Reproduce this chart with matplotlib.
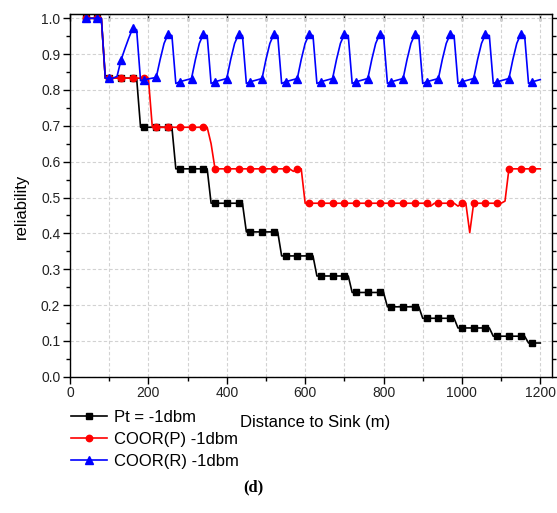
import matplotlib
matplotlib.use('Agg')
import matplotlib.pyplot as plt
from matplotlib.ticker import MultipleLocator

# distance to sink (m), one sample every 10 m
distance = [
    40, 50, 60, 70, 80, 90, 100, 110, 120, 130, 140, 150, 160, 170, 180, 190,
    200, 210, 220, 230, 240, 250, 260, 270, 280, 290, 300, 310, 320, 330, 340,
    350, 360, 370, 380, 390, 400, 410, 420, 430, 440, 450, 460, 470, 480, 490,
    500, 510, 520, 530, 540, 550, 560, 570, 580, 590, 600, 610, 620, 630, 640,
    650, 660, 670, 680, 690, 700, 710, 720, 730, 740, 750, 760, 770, 780, 790,
    800, 810, 820, 830, 840, 850, 860, 870, 880, 890, 900, 910, 920, 930, 940,
    950, 960, 970, 980, 990, 1000, 1010, 1020, 1030, 1040, 1050, 1060, 1070,
    1080, 1090, 1100, 1110, 1120, 1130, 1140, 1150, 1160, 1170, 1180, 1190, 1200,
]

# Pt = -1dbm
pt_rel = [
    1.0, 1.0, 1.0, 1.0, 1.0,
    0.833, 0.833, 0.833, 0.833, 0.833, 0.833, 0.833, 0.833, 0.833,
    0.696, 0.696, 0.696, 0.696, 0.696, 0.696, 0.696, 0.696, 0.696,
    0.580, 0.580, 0.580, 0.580, 0.580, 0.580, 0.580, 0.580, 0.580,
    0.484, 0.484, 0.484, 0.484, 0.484, 0.484, 0.484, 0.484, 0.484,
    0.404, 0.404, 0.404, 0.404, 0.404, 0.404, 0.404, 0.404, 0.404,
    0.337, 0.337, 0.337, 0.337, 0.337, 0.337, 0.337, 0.337, 0.337,
    0.281, 0.281, 0.281, 0.281, 0.281, 0.281, 0.281, 0.281, 0.281,
    0.235, 0.235, 0.235, 0.235, 0.235, 0.235, 0.235, 0.235, 0.235,
    0.195, 0.195, 0.195, 0.195, 0.195, 0.195, 0.195, 0.195, 0.195,
    0.163, 0.163, 0.163, 0.163, 0.163, 0.163, 0.163, 0.163, 0.163,
    0.136, 0.136, 0.136, 0.136, 0.136, 0.136, 0.136, 0.136, 0.136,
    0.113, 0.113, 0.113, 0.113, 0.113, 0.113, 0.113, 0.113, 0.113,
    0.094, 0.094, 0.094, 0.094,
]

# COOR(P) -1dbm
coor_p = [
    1.0, 1.0, 1.0, 1.0, 1.0,
    0.833, 0.833, 0.833, 0.833, 0.833, 0.833, 0.833, 0.833, 0.833, 0.833,
    0.833, 0.833,
    0.696, 0.696, 0.696, 0.696, 0.696, 0.696, 0.696, 0.696, 0.696, 0.696,
    0.696, 0.696, 0.696, 0.696, 0.696,
    0.650,
    0.580, 0.580, 0.580, 0.580, 0.580, 0.580, 0.580, 0.580, 0.580, 0.580,
    0.580, 0.580, 0.580, 0.580, 0.580, 0.580, 0.580, 0.580, 0.580, 0.580,
    0.573, 0.580, 0.580,
    0.484, 0.484, 0.484, 0.484, 0.484, 0.484, 0.484, 0.484, 0.484, 0.484,
    0.484, 0.484, 0.484, 0.484, 0.484, 0.484, 0.484, 0.484, 0.484, 0.484,
    0.484, 0.484, 0.484, 0.484, 0.484, 0.484, 0.484, 0.484, 0.484, 0.484,
    0.484, 0.484,
    0.476, 0.484, 0.484, 0.484, 0.484, 0.484, 0.484, 0.476, 0.484, 0.484,
    0.402,
    0.484, 0.484, 0.484, 0.484, 0.484, 0.484, 0.484, 0.484,
    0.490,
    0.580, 0.580, 0.580, 0.580, 0.580, 0.580, 0.580, 0.580, 0.580,
]

# COOR(R) -1dbm
coor_r = [
    1.0, 1.0, 1.0, 1.0, 1.0,
    0.833, 0.833, 0.833, 0.838, 0.883, 0.915, 0.945, 0.972, 0.968,
    0.826, 0.828, 0.831, 0.833, 0.835,
    0.885, 0.930, 0.955, 0.952, 0.818, 0.823, 0.826, 0.829, 0.832,
    0.885, 0.930, 0.955, 0.952, 0.818, 0.823, 0.826, 0.829, 0.832,
    0.885, 0.930, 0.955, 0.952, 0.818, 0.823, 0.826, 0.829, 0.832,
    0.885, 0.930, 0.955, 0.952, 0.818, 0.823, 0.826, 0.829, 0.832,
    0.885, 0.930, 0.955, 0.952, 0.818, 0.823, 0.826, 0.829, 0.832,
    0.885, 0.930, 0.955, 0.952, 0.818, 0.823, 0.826, 0.829, 0.832,
    0.885, 0.930, 0.955, 0.952, 0.818, 0.823, 0.826, 0.829, 0.832,
    0.885, 0.930, 0.955, 0.952, 0.818, 0.823, 0.826, 0.829, 0.832,
    0.885, 0.930, 0.955, 0.952, 0.818, 0.823, 0.826, 0.829, 0.832,
    0.885, 0.930, 0.955, 0.952, 0.818, 0.823, 0.826, 0.829, 0.832,
    0.885, 0.930, 0.955, 0.952, 0.818, 0.823, 0.826, 0.829,
]

series_labels = ['Pt = -1dbm', 'COOR(P) -1dbm', 'COOR(R) -1dbm']
x_major = [0, 200, 400, 600, 800, 1000, 1200]
y_major = [0.0, 0.1, 0.2, 0.3, 0.4, 0.5, 0.6, 0.7, 0.8, 0.9, 1.0]

plt.rcParams['font.family'] = ['Liberation Sans', 'DejaVu Sans']

fig = plt.figure(figsize=(5.57, 5.13), dpi=100)
ax = fig.add_axes([0.1257, 0.2657, 0.8654, 0.7070])

ax.plot(distance, pt_rel, color='black', lw=1.2, marker='s', ms=4.0,
        markevery=3, label=series_labels[0])
ax.plot(distance, coor_p, color='red', lw=1.2, marker='o', ms=4.6,
        markevery=3, label=series_labels[1])
ax.plot(distance, coor_r, color='blue', lw=1.2, marker='^', ms=5.2,
        markevery=3, label=series_labels[2])

ax.set_xlim(0, 1230)
ax.set_ylim(0, 1.012)
ax.set_xticks(x_major)
ax.xaxis.set_minor_locator(MultipleLocator(100))
ax.set_yticks(y_major)
ax.set_yticklabels([f'{v:.1f}' for v in y_major])
ax.yaxis.set_minor_locator(MultipleLocator(0.05))

grid_kw = dict(color='#d2d2d2', linestyle=(0, (3, 2)), linewidth=0.8)
ax.grid(which='both', axis='x', **grid_kw)
ax.grid(which='major', axis='y', **grid_kw)
ax.set_axisbelow(True)

for s in ax.spines.values():
    s.set_linewidth(1.0)

ax.tick_params(which='both', direction='out', right=True, width=1.0,
               labelsize=10, pad=2, labelcolor='#222222')
ax.tick_params(which='major', length=5)
ax.tick_params(which='minor', length=3)

# top axis: ticks every 100 pointing in
top = ax.secondary_xaxis('top')
top.set_xticks([100 * i for i in range(13)])
top.tick_params(direction='in', length=5, width=1.0, labeltop=False)

ax.set_xlabel('Distance to Sink (m)', fontsize=12)
ax.xaxis.set_label_coords(0.508, -0.106)
ax.set_ylabel('reliability', fontsize=12)
ax.yaxis.set_label_coords(-0.085, 0.47)

fig.legend(loc='upper left', bbox_to_anchor=(71 / 557, 1 - 410 / 513),
           frameon=False, fontsize=12, handlelength=2.15, handletextpad=0.45,
           labelspacing=0.42, borderaxespad=0, borderpad=0)

fig.text(253 / 557, 1 - 487 / 513, '(d)', ha='center', va='center',
         fontsize=12, fontweight='bold', family=['Liberation Serif', 'DejaVu Serif'])

fig.savefig('out.png', dpi=100)
